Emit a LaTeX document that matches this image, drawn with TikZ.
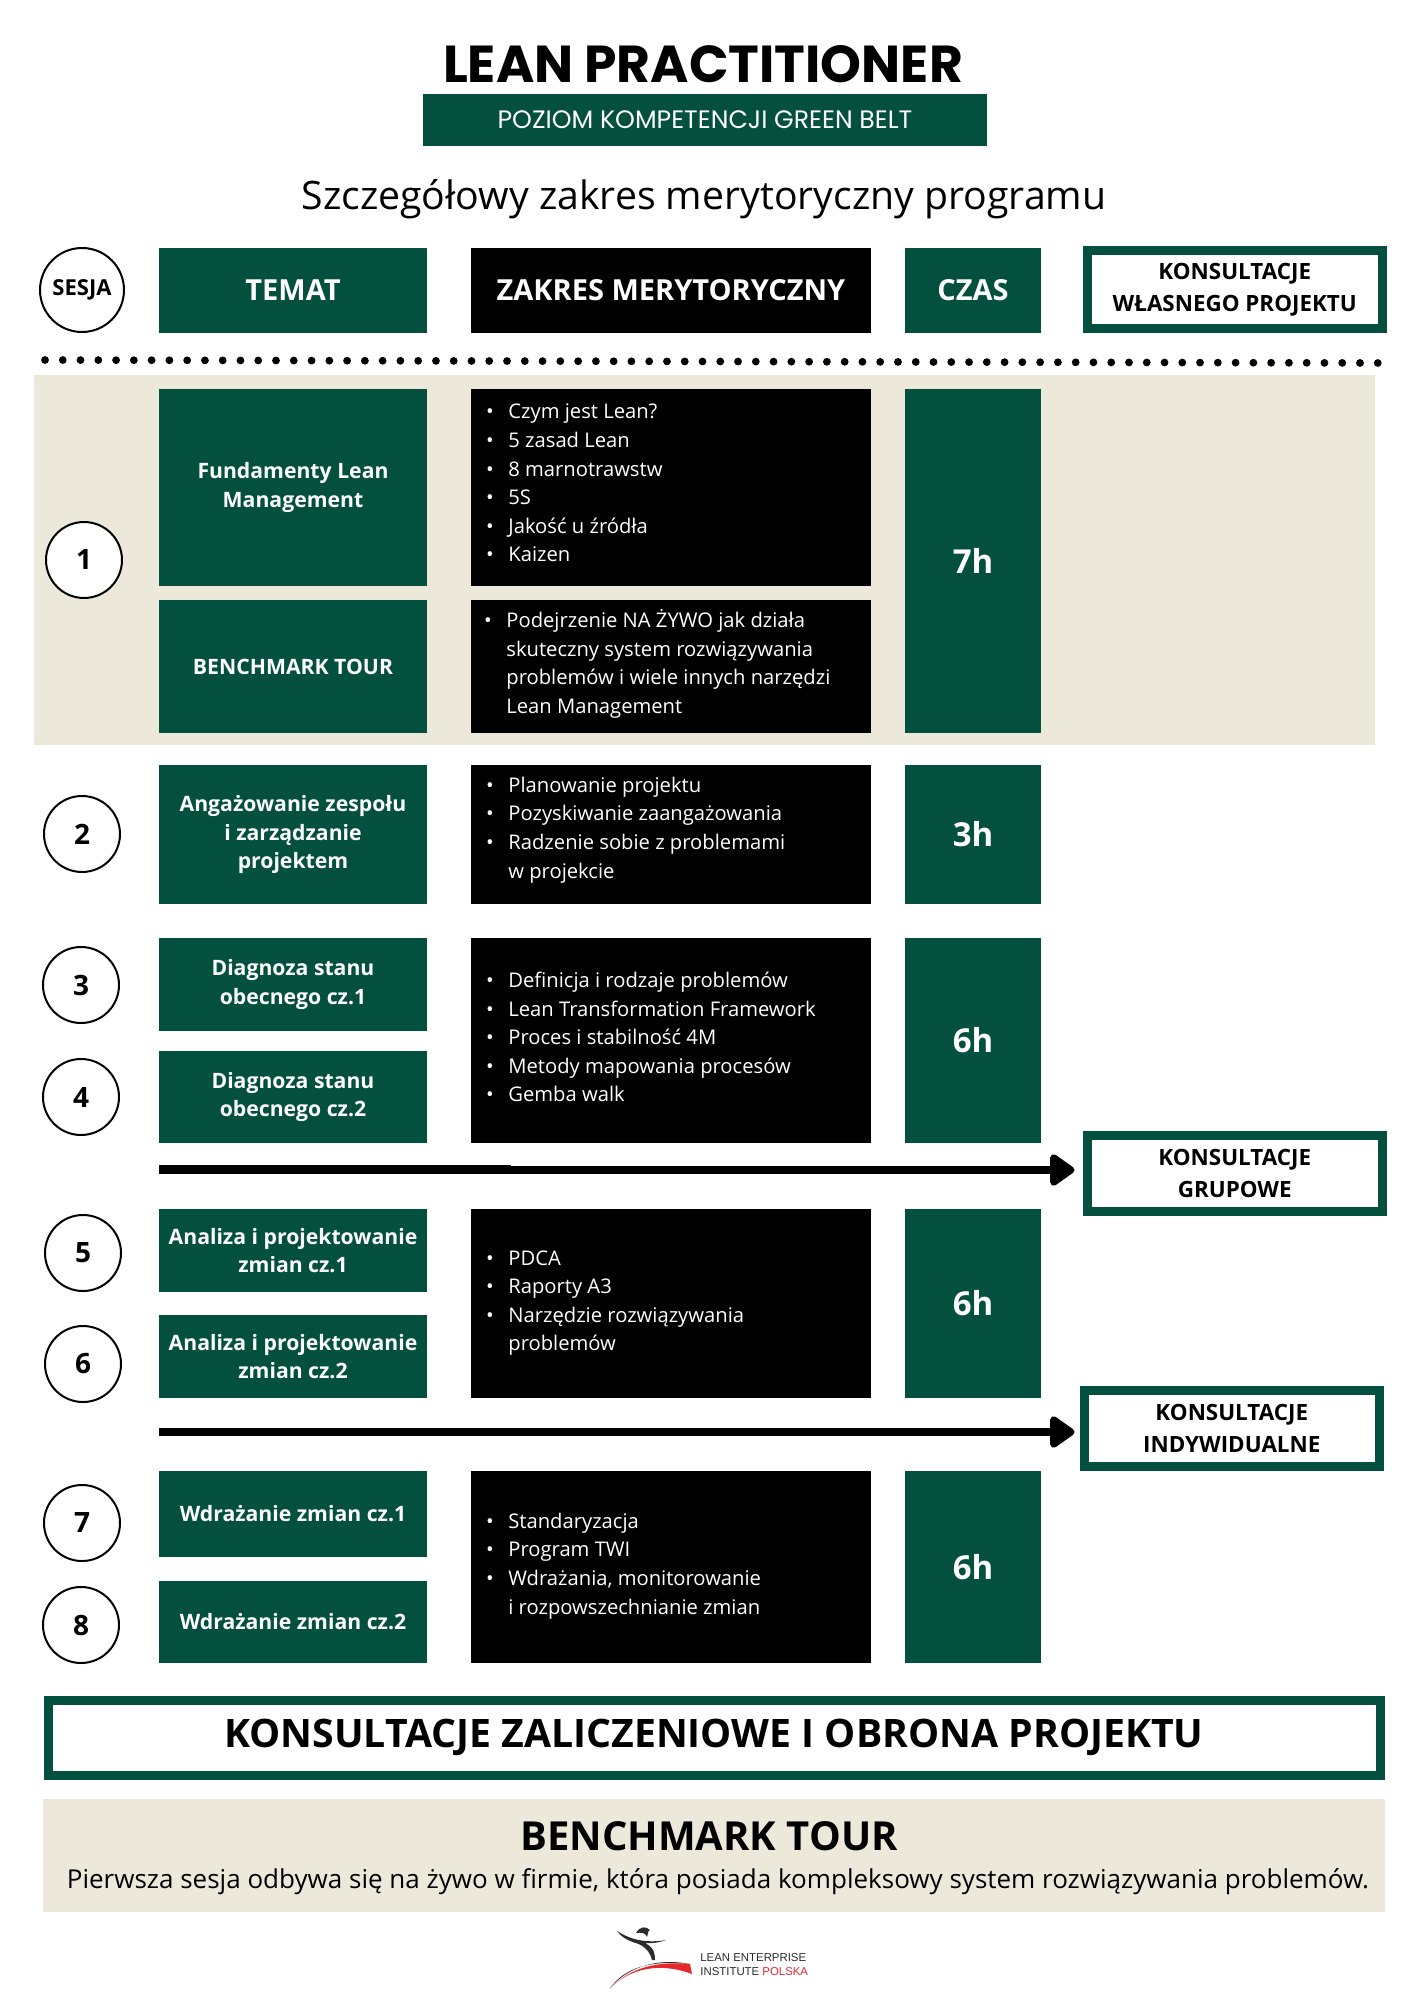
\documentclass[tikz,border=0pt]{standalone}
\usepackage{fontspec}
\setmainfont{Open Sans}
\newfontfamily\popf{Poppins}
\newfontfamily\libf{Liberation Sans}
\usetikzlibrary{arrows.meta}
\definecolor{grn}{HTML}{04503F}
\definecolor{bge}{HTML}{EDE9DA}
\definecolor{logored}{HTML}{E8262D}
\definecolor{logodk}{HTML}{2B2B2D}
\newcommand{\fs}[2]{\fontsize{#1}{#2}\selectfont}
\newcommand{\bx}[7]{\node[#6,minimum width={(#4-#2)*0.5pt},minimum height={(#5-#3)*0.5pt}] (#1) at ({(#2+#4)/2},{(#3+#5)/2}) {#7};}
\newcommand{\cnum}[4]{\node[numc,minimum size={#4*1pt}] (#1) at (#2,#3) {#1};}
\newcommand{\bl}[1]{\makebox[11.2pt][l]{•}#1}
\newcommand{\nb}[1]{\hspace*{11.2pt}#1}
\tikzset{
  x=0.5pt,y=-0.5pt,
  base/.style={inner sep=0pt,outer sep=0pt,align=center},
  grnbox/.style={base,fill=grn,text=white,font=\bfseries\fs{10.6}{14.4}},
  grnhead/.style={base,fill=grn,text=white,font=\bfseries\fs{14.5}{18}},
  blkbox/.style={base,fill=black,text=white},
  timebox/.style={base,fill=grn,text=white,font=\bfseries\fs{16.5}{20}},
  framebox/.style={base,fill=white,draw=grn,line width=4.5pt,font=\bfseries\fs{11.2}{16}},
  blist/.style={inner sep=0pt,outer sep=0pt,align=left,anchor=west,text=white,font=\fs{10.1}{14.3}},
  numc/.style={circle,draw=black,line width=1pt,fill=white,inner sep=0pt,font=\bfseries\fs{14}{16}},
  flow/.style={line width=4pt,-{Triangle[length=13.5pt,width=18pt,round]}},
  beigearea/.style={base,fill=bge},
}
\begin{document}
\begin{tikzpicture}
\useasboundingbox (0,0) rectangle (1414,2000);
% title
\node[base,font=\popf\bfseries\fs{26}{30}] (title) at (703,64) {LEAN PRACTITIONER};
\bx{sub}{423}{94}{987}{146}{base,fill=grn,text=white,font=\popf\fs{12.6}{15}}{POZIOM KOMPETENCJI GREEN BELT}
\node[base,font=\fs{19.6}{24}] (lead) at (704,199) {Szczegółowy zakres merytoryczny programu};
% header
\node[circle,draw=black,line width=1pt,inner sep=0pt,minimum size=42pt,font=\bfseries\fs{11}{14}] (sesja) at (82,290) {SESJA};
\bx{temat}{159}{248}{427}{333}{grnhead}{TEMAT}
\bx{zakres}{471}{248}{871}{333}{blkbox,font=\bfseries\fs{14.5}{18}}{ZAKRES MERYTORYCZNY}
\bx{czas}{905}{248}{1041}{333}{grnhead}{CZAS}
\bx{konsw}{1087.5}{250.5}{1382}{329}{framebox}{KONSULTACJE\\WŁASNEGO PROJEKTU}
% dots
\foreach \i in {0,...,75} \fill ({45+\i*17.77},{360+\i*0.04}) circle (3.9);
% session 1 band
\bx{band}{34}{375}{1375}{745}{beigearea}{}
\bx{t1}{159}{389}{427}{586}{grnbox}{Fundamenty Lean\\Management}
\bx{t1b}{159}{600}{427}{733}{grnbox}{BENCHMARK TOUR}
\bx{z1}{471}{389}{871}{586}{blkbox}{}
\bx{z1b}{471}{600}{871}{733}{blkbox}{}
\bx{h1}{905}{389}{1041}{733}{timebox}{7h}
\node[blist] (l1) at (486,483) {\bl{Czym jest Lean?}\\\bl{5 zasad Lean}\\\bl{8 marnotrawstw}\\\bl{5S}\\\bl{Jakość u źródła}\\\bl{Kaizen}};
\node[blist] (l1b) at (484,664) {\bl{Podejrzenie NA ŻYWO jak działa}\\\nb{skuteczny system rozwiązywania}\\\nb{problemów i wiele innych narzędzi}\\\nb{Lean Management}};
% session 2
\bx{t2}{159}{765}{427}{904}{grnbox}{Angażowanie zespołu\\i zarządzanie\\projektem}
\bx{z2}{471}{765}{871}{904}{blkbox}{}
\bx{h2}{905}{765}{1041}{904}{timebox}{3h}
\node[blist] (l2) at (486,830) {\bl{Planowanie projektu}\\\bl{Pozyskiwanie zaangażowania}\\\bl{Radzenie sobie z problemami}\\\nb{w projekcie}};
% sessions 3-4
\bx{t3}{159}{938}{427}{1031}{grnbox}{Diagnoza stanu\\obecnego cz.1}
\bx{t4}{159}{1051}{427}{1143}{grnbox}{Diagnoza stanu\\obecnego cz.2}
\bx{z3}{471}{938}{871}{1143}{blkbox}{}
\bx{h3}{905}{938}{1041}{1143}{timebox}{6h}
\node[blist] (l3) at (486,1037) {\bl{Definicja i rodzaje problemów}\\\bl{Lean Transformation Framework}\\\bl{Proces i stabilność 4M}\\\bl{Metody mapowania procesów}\\\bl{Gemba walk}};
% grupowe + arrow
\bx{grup}{1087.5}{1135.5}{1382}{1211}{framebox}{KONSULTACJE\\GRUPOWE}
\coordinate (a1) at (159,1170);
\fill (159,1165) rectangle (511,1174);
\draw[flow,shorten >=6.5pt] (a1) -- (a1 -| grup.west);
% sessions 5-6
\bx{t5}{159}{1209}{427}{1292}{grnbox}{Analiza i projektowanie\\zmian cz.1}
\bx{t6}{159}{1315}{427}{1398}{grnbox}{Analiza i projektowanie\\zmian cz.2}
\bx{z5}{471}{1209}{871}{1398}{blkbox}{}
\bx{h5}{905}{1209}{1041}{1398}{timebox}{6h}
\node[blist] (l5) at (486,1303) {\bl{PDCA}\\\bl{Raporty A3}\\\bl{Narzędzie rozwiązywania}\\\nb{problemów}};
% indywidualne + arrow
\bx{indy}{1084.5}{1390}{1379}{1466}{framebox}{KONSULTACJE\\INDYWIDUALNE}
\coordinate (a2) at (159,1432);
\draw[flow,shorten >=5pt] (a2) -- (a2 -| indy.west);
% sessions 7-8
\bx{t7}{159}{1471}{427}{1557}{grnbox}{Wdrażanie zmian cz.1}
\bx{t8}{159}{1581}{427}{1663}{grnbox}{Wdrażanie zmian cz.2}
\bx{z7}{471}{1471}{871}{1663}{blkbox}{}
\bx{h7}{905}{1471}{1041}{1663}{timebox}{6h}
\node[blist] (l7) at (486,1566) {\bl{Standaryzacja}\\\bl{Program TWI}\\\bl{Wdrażania, monitorowanie}\\\nb{i rozpowszechnianie zmian}};
% session numbers
\cnum{1}{84}{560}{38}
\cnum{2}{82}{834}{38}
\cnum{3}{81}{985}{38}
\cnum{4}{81}{1097}{38}
\cnum{5}{83}{1253}{38}
\cnum{6}{83}{1364}{38}
\cnum{7}{82}{1523}{38}
\cnum{8}{81}{1625}{38}
% bottom
\bx{final}{48}{1700}{1380}{1775}{framebox,font=\bfseries\fs{19.6}{24}}{KONSULTACJE ZALICZENIOWE I OBRONA PROJEKTU}
\bx{bnote}{43}{1799}{1385}{1912}{beigearea}{}
\node[base,font=\bfseries\fs{20}{24}] (btitle) at (709,1836) {BENCHMARK TOUR};
\node[base,font=\fs{13}{16}] (btext) at (718,1882) {Pierwsza sesja odbywa się na żywo w firmie, która posiada kompleksowy system rozwiązywania problemów.};
% logo
\fill[logodk] (617.3,1931.5) .. controls (630,1939) and (640,1941) .. (650,1942) .. controls (640,1944) and (630,1941) .. (617.3,1931.5) -- cycle;
\fill[logodk] (636,1933) .. controls (640,1926) and (646,1926) .. (650,1930) .. controls (647,1931) and (649,1934) .. (647,1937) .. controls (646,1933) and (641,1932) .. (636,1933) -- cycle;
\fill[logodk] (617.3,1931) .. controls (630,1941) and (650,1943) .. (666,1940) .. controls (655,1944) and (648,1943) .. (645,1943) .. controls (655,1948) and (655,1955) .. (655,1960) -- (652,1960) .. controls (650,1952) and (645,1946) .. (636,1943) .. controls (628,1941) and (620,1936) .. (617.3,1931) -- cycle;
\fill[logodk] (610,1988) .. controls (630,1965) and (660,1958) .. (690,1964) .. controls (648,1960) and (625,1968) .. (610,1988) -- cycle;
\fill[logored] (610,1988.5) .. controls (630,1968) and (660,1962) .. (692,1974) -- (690,1964) .. controls (655,1961) and (630,1968) .. (610,1988.5) -- cycle;
\node[inner sep=0pt,anchor=west,font=\libf\fs{5.7}{7.2},text=logodk,align=left] (logot) at (700,1964.5) {LEAN ENTERPRISE\\INSTITUTE \textcolor{logored}{POLSKA}};
\end{tikzpicture}
\end{document}
